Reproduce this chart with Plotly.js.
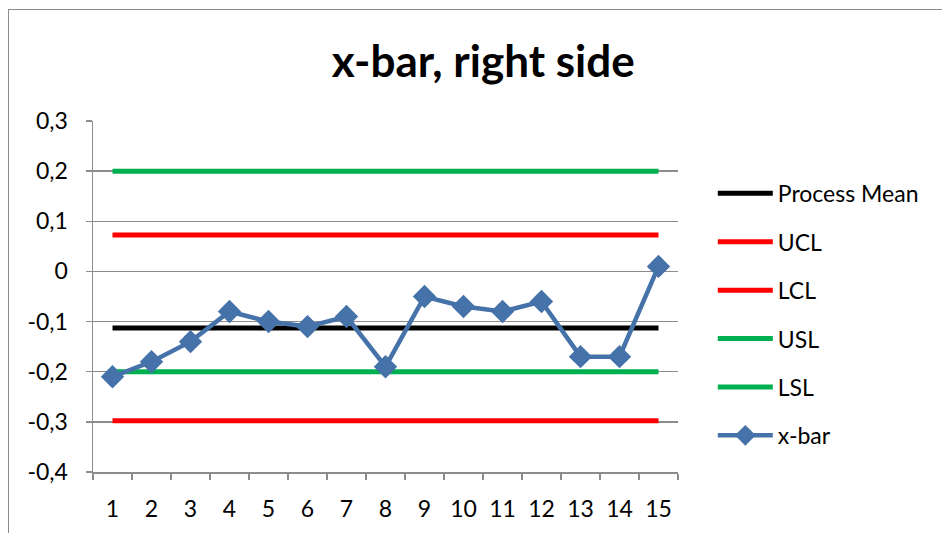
<!DOCTYPE html>
<html>
<head>
<meta charset="utf-8">
<script src="https://cdn.plot.ly/plotly-3.0.1.min.js"></script>
<style>
html,body{margin:0;padding:0;overflow:hidden;background:#fff;}
#wrap{position:relative;width:942px;height:533px;}
#chart{position:absolute;left:0;top:0;width:942px;height:533px;}
#frame{position:absolute;left:8px;top:9px;width:1000px;height:600px;border-left:1.5px solid #8c8c8c;border-top:1.5px solid #8c8c8c;pointer-events:none;}
</style>
</head>
<body>
<div id="wrap"><div id="chart"></div><div id="frame"></div></div>
<script>
const categories = ["1","2","3","4","5","6","7","8","9","10","11","12","13","14","15"];
const xbar = [-0.21,-0.18,-0.14,-0.08,-0.10,-0.11,-0.09,-0.19,-0.05,-0.07,-0.08,-0.06,-0.17,-0.17,0.01];
const processMean = -0.1127;
const ucl = 0.0727;
const lcl = -0.298;
const usl = 0.2;
const lsl = -0.2;
const yTicks = [-0.4,-0.3,-0.2,-0.1,0,0.1,0.2,0.3];
const yTickLabels = ["-0,4","-0,3","-0,2","-0,1","0","0,1","0,2","0,3"];

const FONT = "Lato, 'Open Sans', sans-serif";
function flat(name, val, color, grp){
  return {x: categories, y: categories.map(()=>val), name: name, type:'scatter', mode:'lines',
    line:{color:color, width:5}, legendgroup:grp, hoverinfo:'skip'};
}
const traces = [
  flat('Process Mean', processMean, '#000000','a'),
  flat('UCL', ucl, '#FF0000','b'),
  flat('LCL', lcl, '#FF0000','c'),
  flat('USL', usl, '#00B050','d'),
  flat('LSL', lsl, '#00B050','e'),
  {x: categories, y: xbar, name:'x-bar', type:'scatter', mode:'lines+markers',
   line:{color:'#4672AA', width:4.5}, marker:{symbol:'diamond', size:18, color:'#4672AA'}, legendgroup:'f'}
];
const layout = {
  width:942, height:533,
  margin:{l:93, r:264, t:121, b:61},
  paper_bgcolor:'#fff', plot_bgcolor:'#fff',
  font:{family:FONT, size:23, color:'#000'},
  title:{text:'<b>x-bar, right side</b>', font:{family:FONT, size:44, color:'#000'}, x:0.513, xref:'container', xanchor:'center', y:0.885, yref:'container', yanchor:'middle'},
  showlegend:true,
  legend:{x:1.0595, xanchor:'left', y:0.855, yanchor:'top', itemwidth:55, font:{family:FONT, size:23, color:'#000'}, traceorder:'grouped', tracegroupgap:15.5, bgcolor:'rgba(0,0,0,0)'},
  xaxis:{type:'category', range:[-0.5,14.5], tickson:'boundaries', ticks:'outside', ticklen:6, tickcolor:'#8c8c8c', tickwidth:1.5,
    showline:true, linecolor:'#8c8c8c', linewidth:1.5, showgrid:false, zeroline:false, fixedrange:true, ticklabelstandoff:16,
    tickfont:{family:FONT, size:23, color:'#000'}},
  yaxis:{range:[-0.4,0.3], tickvals:yTicks, ticktext:yTickLabels, ticks:'outside', ticklen:6, tickcolor:'#8c8c8c', tickwidth:1.5,
    showline:true, linecolor:'#8c8c8c', linewidth:1.5, showgrid:true, gridcolor:'#8c8c8c', gridwidth:1.5, zeroline:false,
    ticklabelstandoff:13, tickfont:{family:FONT, size:23, color:'#000'}}
};
Plotly.newPlot('chart', traces, layout, {displayModeBar:false, staticPlot:true});
</script>
</body>
</html>
